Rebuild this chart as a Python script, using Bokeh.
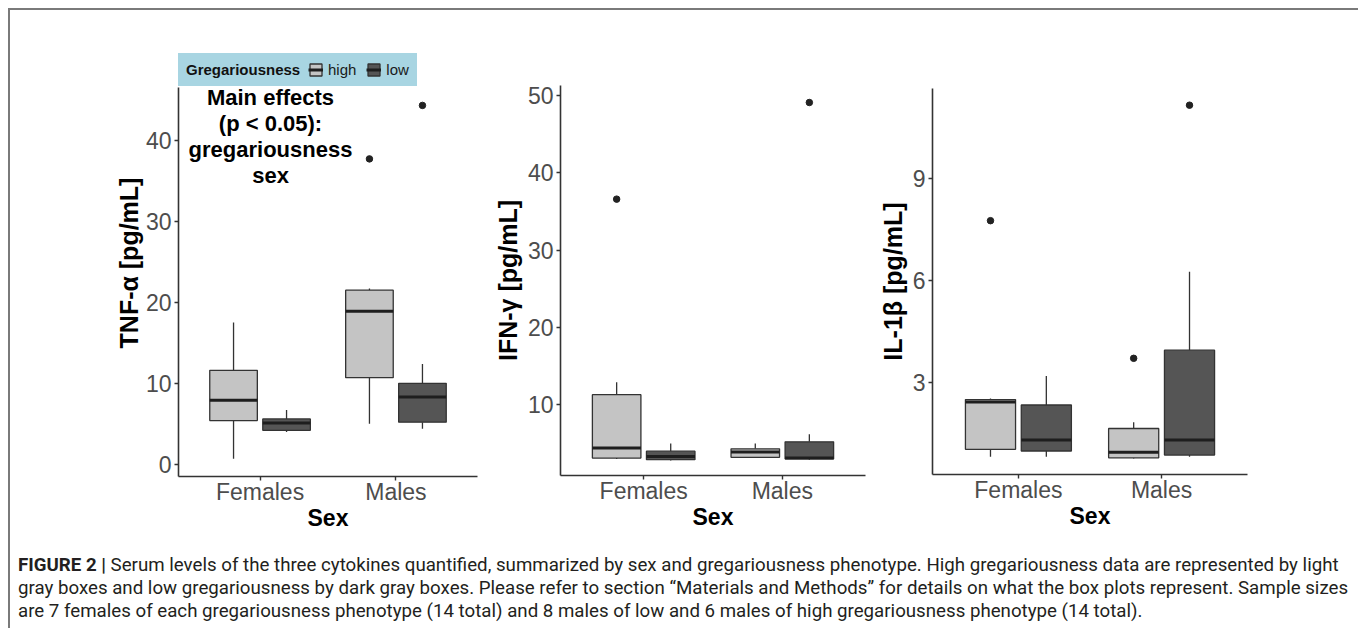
from bokeh.plotting import figure
from bokeh.models import (ColumnDataSource, FactorRange, Range1d, Label, Legend,
                          LegendItem, Div, FixedTicker)
from bokeh.transform import dodge
from bokeh.layouts import row, column
from bokeh.embed import file_html
from bokeh.resources import INLINE

# ---------------- data ----------------
sexes = ["Females", "Males"]
groups = ["high", "low"]
# five-number summaries: [lower whisker, Q1, median, Q3, upper whisker]
tnf_high_females = [0.7, 5.4, 7.9, 11.6, 17.5]
tnf_high_males = [5.0, 10.7, 18.9, 21.5, 21.7]
tnf_low_females = [4.0, 4.2, 5.1, 5.6, 6.7]
tnf_low_males = [4.4, 5.2, 8.3, 10.0, 12.4]
tnf_out_sex = ["Males", "Males"]
tnf_out_group = ["high", "low"]
tnf_out_val = [37.7, 44.3]

ifn_high_females = [3.0, 3.1, 4.4, 11.3, 12.9]
ifn_high_males = [3.1, 3.2, 3.9, 4.3, 5.0]
ifn_low_females = [2.8, 2.9, 3.3, 4.0, 5.0]
ifn_low_males = [2.9, 3.0, 3.1, 5.2, 6.2]
ifn_out_sex = ["Females", "Males"]
ifn_out_group = ["high", "low"]
ifn_out_val = [36.6, 49.1]

il1b_high_females = [0.83, 1.05, 2.44, 2.51, 2.54]
il1b_high_males = [0.78, 0.80, 0.96, 1.66, 1.84]
il1b_low_females = [0.83, 1.0, 1.32, 2.35, 3.2]
il1b_low_males = [0.83, 0.88, 1.32, 3.96, 6.26]
il1b_out_sex = ["Females", "Males", "Males"]
il1b_out_group = ["high", "high", "low"]
il1b_out_val = [7.76, 3.72, 11.15]

tnf_ticks = [0, 10, 20, 30, 40]
ifn_ticks = [10, 20, 30, 40, 50]
il1b_ticks = [3, 6, 9]

legend_title = "Gregariousness"
effects_lines = ["Main effects", "(p < 0.05):", "gregariousness", "sex"]

caption_lines = [
    "Serum levels of the three cytokines quantified, summarized by sex and gregariousness phenotype. High gregariousness data are represented by light",
    "gray boxes and low gregariousness by dark gray boxes. Please refer to section \u201cMaterials and Methods\u201d for details on what the box plots represent. Sample sizes",
    "are 7 females of each gregariousness phenotype (14 total) and 8 males of low and 6 males of high gregariousness phenotype (14 total).",
]

# ---------------- styling ----------------
FILL = {"high": "#c4c4c4", "low": "#555555"}
OFFSET = {"high": -0.195, "low": 0.195}
BOX_W = 0.35
FONT = "Liberation Sans"
LEG_BG = "#a8d5e2"


def summary_source(fem, mal):
    return ColumnDataSource(dict(
        sex=sexes,
        lower=[fem[0], mal[0]], q1=[fem[1], mal[1]], med=[fem[2], mal[2]],
        q3=[fem[3], mal[3]], upper=[fem[4], mal[4]],
    ))


def make_panel(ylabel, summ, out_sex, out_group, out_val, yr, ticks,
               fw, fh, bl, bt, br, bb):
    p = figure(x_range=FactorRange(*sexes, range_padding=0.1),
               y_range=Range1d(*yr), frame_width=fw, frame_height=fh,
               min_border_left=bl, min_border_top=bt, min_border_right=br,
               min_border_bottom=bb, output_backend="svg",
               toolbar_location=None, background_fill_color="white",
               border_fill_color="white")
    p.frame_align = False
    p.outline_line_color = None
    p.xgrid.visible = False
    p.ygrid.visible = False
    rends = {}
    for g in groups:
        src = summary_source(*summ[g])
        off = OFFSET[g]
        xc = dodge("sex", off, range=p.x_range)
        p.segment(x0=xc, x1=xc, y0="lower", y1="q1", source=src,
                  line_color="#333333", line_width=1.3)
        p.segment(x0=xc, x1=xc, y0="q3", y1="upper", source=src,
                  line_color="#333333", line_width=1.3)
        box = p.vbar(x=xc, width=BOX_W, bottom="q1", top="q3", source=src,
                     fill_color=FILL[g], line_color="#333333", line_width=1.3)
        med = p.segment(x0=dodge("sex", off - BOX_W / 2, range=p.x_range),
                        x1=dodge("sex", off + BOX_W / 2, range=p.x_range),
                        y0="med", y1="med", source=src,
                        line_color="#1e1e1e", line_width=3)
        rends[g] = [box, med]
        osex = [s for s, gg in zip(out_sex, out_group) if gg == g]
        oval = [v for v, gg in zip(out_val, out_group) if gg == g]
        if osex:
            osrc = ColumnDataSource(dict(sex=osex, val=oval))
            p.scatter(x=xc, y="val", source=osrc, size=6.5,
                      fill_color="#222222", line_color="#222222")
    p.yaxis.ticker = FixedTicker(ticks=ticks)
    p.xaxis.axis_label = "Sex"
    p.yaxis.axis_label = ylabel
    for ax in (p.xaxis[0], p.yaxis[0]):
        ax.axis_line_color = "#333333"
        ax.axis_line_width = 1.6
        ax.major_tick_line_color = "#333333"
        ax.major_tick_line_width = 1.4
        ax.major_tick_out = 4
        ax.major_tick_in = 0
        ax.minor_tick_line_color = None
        ax.major_label_text_font = FONT
        ax.major_label_text_font_size = "23px"
        ax.major_label_text_color = "#4d4d4d"
        ax.major_label_standoff = 3
        ax.axis_label_text_font = FONT
        ax.axis_label_text_font_style = "bold"
        ax.axis_label_text_color = "black"
        ax.axis_label_standoff = 3
    p.xaxis.axis_label_text_font_size = "23px"
    p.yaxis.axis_label_text_font_size = "25px"
    p.xaxis.major_label_standoff = -2
    p.xaxis.axis_label_standoff = -3
    return p, rends


# panel 1's frame reaches higher than its axis so that the legend fits in it
p1, r1 = make_panel("TNF-\u03b1 [pg/mL]",
                    {"high": (tnf_high_females, tnf_high_males),
                     "low": (tnf_low_females, tnf_low_males)},
                    tnf_out_sex, tnf_out_group, tnf_out_val,
                    (-1.5, 51.2), tnf_ticks, 299, 427, 168, 39, 13, 69)
p1.yaxis.bounds = (-1.5, 46.5)
p1.yaxis.axis_label_standoff = 0
p2, r2 = make_panel("IFN-\u03b3 [pg/mL]",
                    {"high": (ifn_high_females, ifn_high_males),
                     "low": (ifn_low_females, ifn_low_males)},
                    ifn_out_sex, ifn_out_group, ifn_out_val,
                    (0.85, 51.3), ifn_ticks, 305, 390, 63, 75, 10, 70)
p3, r3 = make_panel("IL-1\u03b2 [pg/mL]",
                    {"high": (il1b_high_females, il1b_high_males),
                     "low": (il1b_low_females, il1b_low_males)},
                    il1b_out_sex, il1b_out_group, il1b_out_val,
                    (0.31, 11.64), il1b_ticks, 315, 386, 54, 78, 115, 71)

# main effects annotation in panel 1
for i, line in enumerate(effects_lines):
    p1.add_layout(Label(x=0.577, y=45.3 - i * 3.21, text=line,
                        text_align="center", text_baseline="middle",
                        text_font=FONT, text_font_size="22px",
                        text_font_style="bold", text_color="black"))

# legend above the first panel's axis: a bold title block followed by the
# high / low keys, both on the same light-blue background
LEG_Y, LEG_PAD = 390, 7
common = dict(orientation="horizontal", background_fill_color=LEG_BG,
              background_fill_alpha=1.0, border_line_color=LEG_BG,
              border_line_width=1, padding=LEG_PAD, margin=0,
              glyph_height=15, label_text_font=FONT,
              label_text_font_size="15px")
spacer = p1.scatter(x=[], y=[], size=1, fill_alpha=0, line_alpha=0)
title_block = Legend(items=[LegendItem(label=legend_title,
                                       renderers=[spacer])],
                     location=(0, LEG_Y), glyph_width=0, label_standoff=0,
                     label_text_font_style="bold", label_text_color="#111111",
                     **common)
keys = Legend(items=[LegendItem(label=g, renderers=r1[g]) for g in groups],
              location=(122, LEG_Y), glyph_width=15, label_standoff=5,
              spacing=10, label_text_color="#1a1a1a", **common)
p1.add_layout(title_block, "center")
p1.add_layout(keys, "center")

caption = Div(
    text="<b>FIGURE 2 |</b> " + "<br>".join(caption_lines),
    width=1330,
    styles={"font-family": "Roboto", "font-size": "18.7px",
            "line-height": "23px", "color": "#231f20",
            "padding-top": "4px", "padding-left": "3px",
            "white-space": "nowrap"},
)

layout = column(row(p1, p2, p3), caption,
                styles={"margin-left": "8px", "margin-top": "8px",
                        "border-top": "2px solid #7a7a7a",
                        "border-left": "2px solid #7a7a7a",
                        "border-right": "2px solid #7a7a7a"})

open("out.html", "w").write(file_html(layout, INLINE))
